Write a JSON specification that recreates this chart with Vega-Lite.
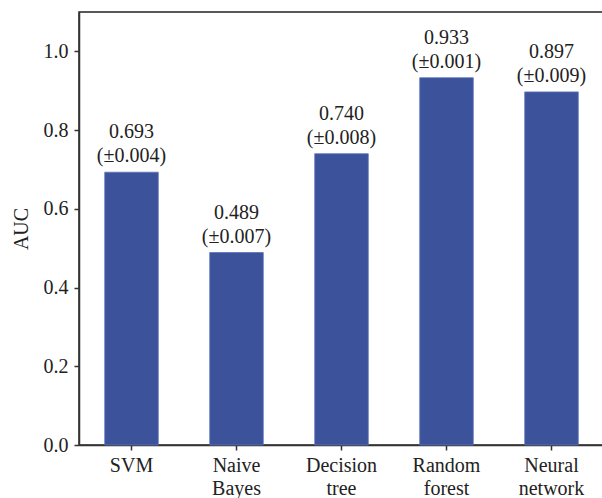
{
  "$schema": "https://vega.github.io/schema/vega-lite/v6.json",
  "width": 525,
  "height": 433,
  "autosize": "none",
  "padding": {"left": 79, "top": 12, "right": 0, "bottom": 53},
  "background": "white",
  "config": {
    "font": "Liberation Serif",
    "view": {"stroke": "#222", "strokeWidth": 1.5},
    "axis": {
      "domainColor": "#333",
      "domainWidth": 1.5,
      "tickColor": "#333",
      "tickWidth": 1.5,
      "tickSize": 5,
      "labelFont": "Liberation Serif",
      "labelFontSize": 20,
      "labelColor": "#222",
      "titleFont": "Liberation Serif",
      "titleFontSize": 20,
      "titleFontWeight": "normal",
      "titleColor": "#222",
      "grid": false
    }
  },
  "data": {
    "values": [
      {"model": "SVM", "auc": 0.693, "sd": "(±0.004)"},
      {"model": "Naive Bayes", "auc": 0.489, "sd": "(±0.007)"},
      {"model": "Decision tree", "auc": 0.740, "sd": "(±0.008)"},
      {"model": "Random forest", "auc": 0.933, "sd": "(±0.001)"},
      {"model": "Neural network", "auc": 0.897, "sd": "(±0.009)"}
    ]
  },
  "encoding": {
    "x": {
      "field": "model",
      "type": "nominal",
      "sort": null,
      "scale": {"paddingInner": 0.49, "paddingOuter": 0.245},
      "axis": {
        "title": null,
        "labelAngle": 0,
        "labelPadding": 5,
        "labelLineHeight": 23,
        "labelBaseline": "top",
        "labelExpr": "split(datum.label, ' ')"
      }
    },
    "y": {
      "field": "auc",
      "type": "quantitative",
      "scale": {"domain": [0, 1.1], "nice": false},
      "axis": {
        "title": "AUC",
        "values": [0, 0.2, 0.4, 0.6, 0.8, 1.0],
        "format": ".1f",
        "labelPadding": 6,
        "titlePadding": 12
      }
    }
  },
  "layer": [
    {"mark": {"type": "bar", "color": "#3c539c", "stroke": "#5d74b8", "strokeWidth": 0.8}},
    {
      "mark": {"type": "text", "baseline": "alphabetic", "dy": -10, "fontSize": 20, "color": "#222"},
      "encoding": {"text": {"field": "sd"}}
    },
    {
      "mark": {"type": "text", "baseline": "alphabetic", "dy": -34, "fontSize": 20, "color": "#222"},
      "encoding": {"text": {"field": "auc", "format": ".3f"}}
    }
  ]
}
